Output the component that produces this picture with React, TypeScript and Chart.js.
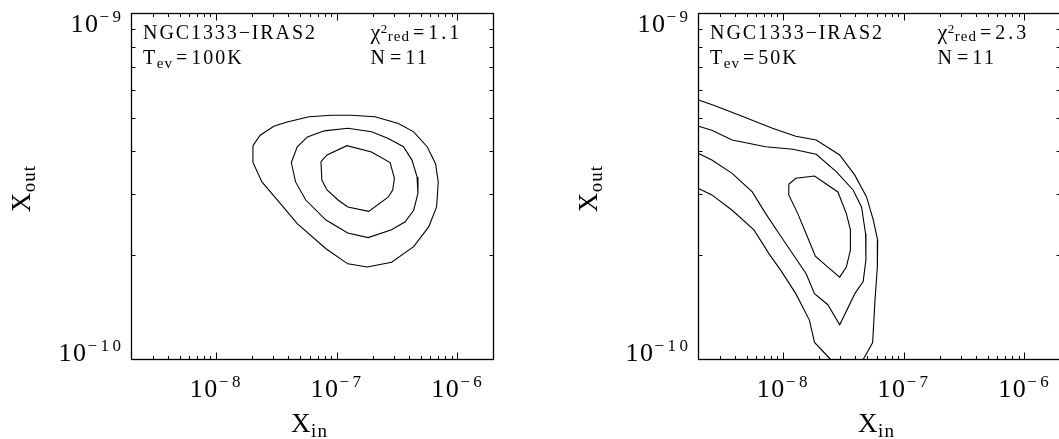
import React, { useEffect, useRef } from 'react';
import { Chart, registerables } from 'chart.js';

Chart.register(...registerables);

const SERIF = '"Liberation Serif", "DejaVu Serif", serif';

// ---- axis ranges & ticks ----
const X_MIN = 2e-9;
const X_MAX = 2e-6;
const Y_MIN = 1e-10;
const Y_MAX = 1e-9;

const xTickValues = [1e-8, 1e-7, 1e-6];
const xTickExponents = ['−8', '−7', '−6'];
const yTickValues = [1e-10, 1e-9];
const yTickExponents = ['−10', '−9'];
const xMinorTicks = [
  3e-9, 4e-9, 5e-9, 6e-9, 7e-9, 8e-9, 9e-9,
  2e-8, 3e-8, 4e-8, 5e-8, 6e-8, 7e-8, 8e-8, 9e-8,
  2e-7, 3e-7, 4e-7, 5e-7, 6e-7, 7e-7, 8e-7, 9e-7,
];
const yMinorTicks = [2e-10, 3e-10, 4e-10, 5e-10, 6e-10, 7e-10, 8e-10, 9e-10];

// ---- left panel (Tev = 100K) contours ----
const leftOuterX = [2.03e-8, 2.03e-8, 2.41e-8, 3.43e-8, 4.73e-8, 8.18e-8, 1.24e-7, 1.8e-7, 2.86e-7, 4.36e-7, 5.82e-7, 6.75e-7, 6.97e-7, 6.62e-7, 5.64e-7, 4.36e-7, 3.26e-7, 2.08e-7, 1.32e-7, 9.0e-8, 5.93e-8, 3.9e-8, 3.02e-8, 2.33e-8, 2.03e-8];
const leftOuterY = [4.15e-10, 3.71e-10, 3.26e-10, 2.82e-10, 2.47e-10, 2.09e-10, 1.89e-10, 1.85e-10, 1.91e-10, 2.12e-10, 2.42e-10, 2.76e-10, 3.26e-10, 3.68e-10, 4.12e-10, 4.55e-10, 4.81e-10, 5.03e-10, 5.08e-10, 5.08e-10, 5.03e-10, 4.86e-10, 4.72e-10, 4.45e-10, 4.15e-10];
const leftMidX = [4.22e-8, 4.73e-8, 5.74e-8, 7.92e-8, 1.24e-7, 1.95e-7, 2.69e-7, 3.59e-7, 4.22e-7, 4.65e-7, 4.73e-7, 4.36e-7, 3.71e-7, 2.86e-7, 1.83e-7, 1.24e-7, 8.18e-8, 5.56e-8, 4.58e-8, 4.22e-8];
const leftMidY = [3.71e-10, 4.12e-10, 4.4e-10, 4.58e-10, 4.66e-10, 4.55e-10, 4.35e-10, 4.12e-10, 3.77e-10, 3.37e-10, 3.02e-10, 2.7e-10, 2.5e-10, 2.37e-10, 2.25e-10, 2.32e-10, 2.53e-10, 2.89e-10, 3.26e-10, 3.71e-10];
const leftInnerX = [7.43e-8, 7.56e-8, 8.34e-8, 1.03e-7, 1.24e-7, 1.85e-7, 2.69e-7, 2.92e-7, 3.02e-7, 2.78e-7, 1.95e-7, 1.22e-7, 8.34e-8, 7.43e-8];
const leftInnerY = [3.73e-10, 3.3e-10, 3.09e-10, 2.89e-10, 2.76e-10, 2.68e-10, 2.95e-10, 3.09e-10, 3.34e-10, 3.71e-10, 3.98e-10, 4.15e-10, 3.9e-10, 3.73e-10];

// ---- right panel (Tev = 50K) contours ----
const rightOuterTopX = [2.0e-9, 2.67e-9, 4.6e-9, 8.2e-9, 1.28e-8, 1.89e-8, 2.96e-8, 3.95e-8, 4.94e-8, 5.62e-8, 6.11e-8, 6.07e-8, 5.8e-8, 5.55e-8, 4.94e-8, 4.63e-8];
const rightOuterTopY = [5.62e-10, 5.43e-10, 5.05e-10, 4.66e-10, 4.42e-10, 4.31e-10, 3.9e-10, 3.41e-10, 2.95e-10, 2.53e-10, 2.21e-10, 1.85e-10, 1.48e-10, 1.12e-10, 1.04e-10, 1.0e-10];
const rightOuterBotX = [2.0e-9, 2.58e-9, 3.8e-9, 5.76e-9, 7.69e-9, 9.62e-9, 1.28e-8, 1.66e-8, 1.83e-8, 2.49e-8];
const rightOuterBotY = [3.12e-10, 2.99e-10, 2.7e-10, 2.37e-10, 2.02e-10, 1.81e-10, 1.55e-10, 1.3e-10, 1.12e-10, 1.0e-10];
const rightMidX = [2.0e-9, 2.58e-9, 3.8e-9, 7.21e-9, 1.21e-8, 1.89e-8, 2.77e-8, 3.82e-8, 4.49e-8, 4.85e-8, 4.88e-8, 4.63e-8, 3.95e-8, 2.96e-8, 2.36e-8, 1.83e-8, 1.56e-8, 1.13e-8, 9.32e-9, 7.21e-9, 5.58e-9, 3.8e-9, 2.58e-9, 2.0e-9];
const rightMidY = [4.72e-10, 4.6e-10, 4.31e-10, 4.12e-10, 4.05e-10, 3.92e-10, 3.49e-10, 3.09e-10, 2.76e-10, 2.31e-10, 1.94e-10, 1.68e-10, 1.55e-10, 1.26e-10, 1.44e-10, 1.55e-10, 1.77e-10, 2.09e-10, 2.31e-10, 2.64e-10, 3.05e-10, 3.45e-10, 3.77e-10, 3.94e-10];
const rightInnerX = [1.12e-8, 1.28e-8, 1.83e-8, 2.86e-8, 3.36e-8, 3.63e-8, 3.63e-8, 3.36e-8, 2.96e-8, 2.36e-8, 1.86e-8, 1.56e-8, 1.33e-8, 1.12e-8, 1.12e-8];
const rightInnerY = [3.21e-10, 3.34e-10, 3.39e-10, 3.05e-10, 2.64e-10, 2.37e-10, 2.07e-10, 1.85e-10, 1.73e-10, 1.85e-10, 1.99e-10, 2.31e-10, 2.64e-10, 2.99e-10, 3.21e-10];

// ---- annotation text ----
const sourceNames = ['NGC1333−IRAS2', 'NGC1333−IRAS2'];
const evapTemps = ['100K', '50K'];
const chi2Values = ['1.1', '2.3'];
const nValues = ['11', '11'];

type Part = { t: string; size: number; dy?: number; ls?: number; pre?: number };

function drawRich(ctx: CanvasRenderingContext2D, parts: Part[], x: number, y: number, align: 'left' | 'center' | 'right') {
  const c: any = ctx;
  const widths: number[] = [];
  let total = 0;
  for (const p of parts) {
    ctx.font = `${p.size}px ${SERIF}`;
    c.letterSpacing = `${p.ls ?? 0}px`;
    const w = ctx.measureText(p.t).width + (p.pre ?? 0);
    widths.push(w);
    total += w;
  }
  let cx = align === 'left' ? x : align === 'right' ? x - total : x - total / 2;
  parts.forEach((p, i) => {
    ctx.font = `${p.size}px ${SERIF}`;
    c.letterSpacing = `${p.ls ?? 0}px`;
    ctx.fillText(p.t, cx + (p.pre ?? 0), y + (p.dy ?? 0));
    cx += widths[i];
  });
  c.letterSpacing = '0px';
}

function framePlugin(panel: number) {
  return {
    id: 'idlFrame' + panel,
    afterDatasetsDraw(chart: any) {
      const { ctx, chartArea: a, scales } = chart;
      const xs = scales.x;
      const ys = scales.y;
      ctx.save();
      ctx.strokeStyle = '#000';
      ctx.fillStyle = '#000';
      ctx.lineWidth = 1.3;
      ctx.strokeRect(a.left, a.top, a.right - a.left, a.bottom - a.top);
      ctx.lineWidth = 1;
      ctx.beginPath();
      const xt = (v: number, len: number) => {
        const px = Math.round(xs.getPixelForValue(v)) + 0.5;
        ctx.moveTo(px, a.bottom); ctx.lineTo(px, a.bottom - len);
        ctx.moveTo(px, a.top); ctx.lineTo(px, a.top + len);
      };
      const yt = (v: number, len: number) => {
        const py = Math.round(ys.getPixelForValue(v)) + 0.5;
        ctx.moveTo(a.left, py); ctx.lineTo(a.left + len, py);
        ctx.moveTo(a.right, py); ctx.lineTo(a.right - len, py);
      };
      xMinorTicks.forEach((v) => xt(v, 3.5));
      xTickValues.forEach((v) => xt(v, 7));
      yMinorTicks.forEach((v) => yt(v, 4));
      ctx.stroke();

      ctx.textBaseline = 'alphabetic';
      // x tick labels
      xTickValues.forEach((v, i) => {
        drawRich(ctx, [
          { t: '10', size: 26, ls: 1.5 },
          { t: xTickExponents[i], size: 17, dy: -10.5, ls: 3.5 },
        ], xs.getPixelForValue(v) + 1, a.bottom + 37.5, 'center');
      });
      // y tick labels
      yTickValues.forEach((v, i) => {
        const py = ys.getPixelForValue(v);
        const base = py - a.top < 20 ? a.top + 18 : py + 1;
        drawRich(ctx, [
          { t: '10', size: 26, ls: 1.5 },
          { t: yTickExponents[i], size: 17, dy: -10, ls: 3.5 },
        ], a.left - 7, base, 'right');
      });
      // x title
      drawRich(ctx, [
        { t: 'X', size: 27, ls: 0.5 },
        { t: 'in', size: 19, dy: 5, ls: 1 },
      ], (a.left + a.right) / 2 - 3, a.bottom + 72, 'center');
      // y title (rotated)
      ctx.save();
      ctx.translate(a.left - 102, (a.top + a.bottom) / 2 + 2);
      ctx.rotate(-Math.PI / 2);
      drawRich(ctx, [
        { t: 'X', size: 27, ls: 0.5 },
        { t: 'out', size: 19, dy: 5, ls: 1 },
      ], 0, 0, 'center');
      ctx.restore();

      // annotations
      const lx = a.left + 11.6;
      const rx = a.left + 239;
      const b1 = a.top + 25;
      const b2 = a.top + 50.7;
      drawRich(ctx, [{ t: sourceNames[panel], size: 20, ls: 1.9 }], lx, b1, 'left');
      drawRich(ctx, [
        { t: 'T', size: 20, ls: 1.5 },
        { t: 'ev', size: 15, dy: 3.5, ls: 1 },
        { t: '=', size: 20, ls: 4, pre: 3 },
        { t: evapTemps[panel], size: 20, ls: 2 },
      ], lx, b2, 'left');
      drawRich(ctx, [
        { t: 'χ', size: 22, ls: 0.5 },
        { t: '2', size: 13, dy: -6, ls: 0.5 },
        { t: 'red', size: 15, dy: 2.5, ls: 1 },
        { t: '=', size: 20, ls: 4, pre: 3 },
        { t: chi2Values[panel], size: 20, ls: 3 },
      ], rx, b1, 'left');
      drawRich(ctx, [
        { t: 'N', size: 20, ls: 2 },
        { t: '=', size: 20, ls: 4, pre: 3 },
        { t: nValues[panel], size: 20, ls: 2.5 },
      ], rx, b2, 'left');
      ctx.restore();
    },
  };
}

function toPoints(xs: number[], ys: number[]) {
  return xs.map((x, i) => ({ x, y: ys[i] }));
}

function lineDataset(xs: number[], ys: number[]) {
  return {
    data: toPoints(xs, ys),
    showLine: true,
    borderColor: '#000',
    backgroundColor: '#000',
    borderWidth: 1.1,
    pointRadius: 0,
    tension: 0,
    fill: false,
  };
}

function makeChart(canvas: HTMLCanvasElement, datasets: any[], padding: any, panel: number) {
  return new Chart(canvas, {
    type: 'scatter',
    data: { datasets },
    options: {
      animation: false,
      responsive: false,
      devicePixelRatio: 1,
      events: [],
      layout: { padding },
      plugins: { legend: { display: false }, tooltip: { enabled: false }, title: { display: false } },
      scales: {
        x: { type: 'logarithmic', min: X_MIN, max: X_MAX, display: false },
        y: { type: 'logarithmic', min: Y_MIN, max: Y_MAX, display: false },
      },
    },
    plugins: [framePlugin(panel)],
  } as any);
}

export default function App() {
  const leftRef = useRef<HTMLCanvasElement>(null);
  const rightRef = useRef<HTMLCanvasElement>(null);

  useEffect(() => {
    const left = makeChart(leftRef.current!, [
      lineDataset(leftOuterX, leftOuterY),
      lineDataset(leftMidX, leftMidY),
      lineDataset(leftInnerX, leftInnerY),
    ], { left: 131.5, right: 36.5, top: 13.5, bottom: 79.5 }, 0);
    const right = makeChart(rightRef.current!, [
      lineDataset(rightOuterTopX, rightOuterTopY),
      lineDataset(rightOuterBotX, rightOuterBotY),
      lineDataset(rightMidX, rightMidY),
      lineDataset(rightInnerX, rightInnerY),
    ], { left: 168.5, right: 14.5, top: 13.5, bottom: 79.5 }, 1);
    return () => {
      left.destroy();
      right.destroy();
    };
  }, []);

  return (
    <div style={{ position: 'fixed', left: 0, top: 0, width: 1059, height: 439, overflow: 'hidden', background: '#fff' }}>
      <canvas ref={leftRef} width={530} height={439} style={{ position: 'absolute', left: 0, top: 0, width: 530, height: 439 }} />
      <canvas ref={rightRef} width={545} height={439} style={{ position: 'absolute', left: 530, top: 0, width: 545, height: 439 }} />
    </div>
  );
}
